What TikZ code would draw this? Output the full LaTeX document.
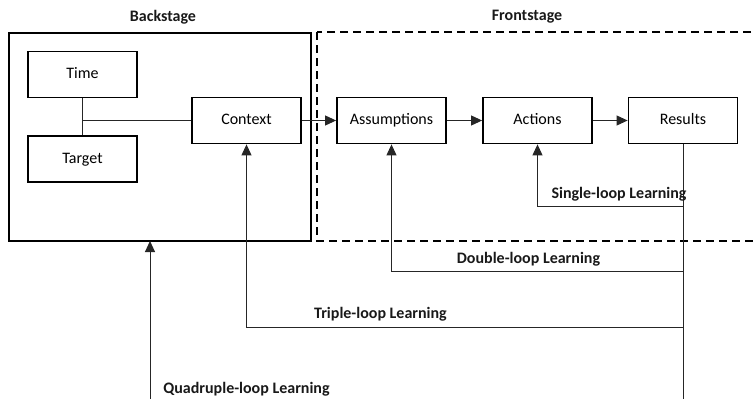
\documentclass[tikz,border=0pt]{standalone}
\usepackage{fontspec}
\setmainfont{Carlito}
\usetikzlibrary{arrows.meta}
\begin{document}
\begin{tikzpicture}[x=1pt,y=-1pt,
  box/.style={draw, line width=1.8pt, minimum width=109pt, minimum height=46pt, inner sep=0pt, text height=11pt, text depth=3pt, font=\fontsize{16}{18}\selectfont, text=black},
  lbl/.style={font=\bfseries\fontsize{16}{18}\selectfont, text=black!90, inner sep=0pt},
  conn/.style={line width=1pt, draw=black!85},
  arr/.style={conn, -{Triangle[length=11pt,width=10pt]}}
]
\useasboundingbox (0,0) rectangle (753,399);
\clip (0,0) rectangle (753,399);
% frames
\draw[line width=2.2pt] (9,33) rectangle (311,241);
\draw[line width=2.2pt, dash pattern=on 8pt off 5pt] (317,32) rectangle (780,241);
\node[lbl] (back) at (163,17) {Backstage};
\node[lbl] (front) at (527,17) {Frontstage};
% nodes
\node[box] (time) at (82.5,74.5) {Time};
\node[box] (target) at (82.5,159) {Target};
\node[box] (context) at (246.5,120.5) {Context};
\node[box] (assump) at (391.5,120.5) {Assumptions};
\node[box] (actions) at (537.5,120.5) {Actions};
\node[box] (results) at (683,120.5) {Results};
\coordinate (backbot) at (150,241);
\coordinate (qstart) at (150,405);
\coordinate (rend) at (683,405);
\coordinate (joint) at (82.5,120.5);
\coordinate (r1) at (683,206);
\coordinate (r2) at (683,271);
\coordinate (r3) at (683,327);
% connectors
\draw[conn] (time.south) -- (target.north);
\draw[conn] (joint) -- (context.west);
\draw[arr] (context.east) -- (assump.west);
\draw[arr] (assump.east) -- (actions.west);
\draw[arr] (actions.east) -- (results.west);
\draw[conn] (results.south) -- (rend);
\draw[arr] (r1) -| (actions.south);
\draw[arr] (r2) -| (assump.south);
\draw[arr] (r3) -| (context.south);
\draw[arr] (qstart) -- (backbot);
% loop labels
\node[lbl] (l1) at (619,194) {Single-loop Learning};
\node[lbl] (l2) at (528.5,259) {Double-loop Learning};
\node[lbl] (l3) at (380.5,314) {Triple-loop Learning};
\node[lbl] (l4) at (246.5,389) {Quadruple-loop Learning};
\end{tikzpicture}
\end{document}
